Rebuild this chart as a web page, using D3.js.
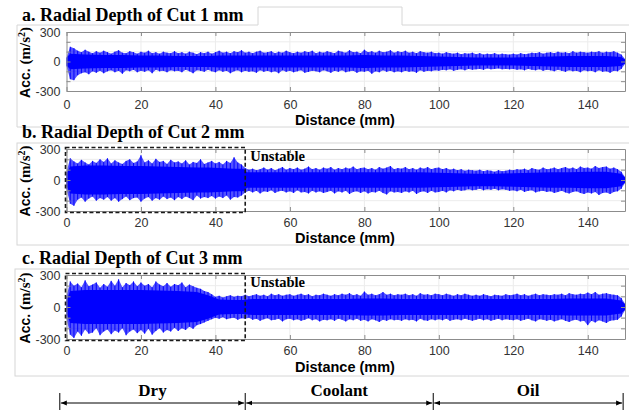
<!DOCTYPE html>
<html>
<head>
<meta charset="utf-8">
<script src="https://cdn.jsdelivr.net/npm/d3@7"></script>
<style>
body { margin: 0; background: #fff; }
svg { display: block; }
</style>
</head>
<body>
<script>
var width = 629,
    height = 410;

// axis ticks
var xTicks = [0, 20, 40, 60, 80, 100, 120, 140];
var yTicks = [-300, -200, -100, 0, 100, 200, 300];
var yLabels = [-300, 0, 300];

var titles = ["a. Radial Depth of Cut 1 mm", "b. Radial Depth of Cut 2 mm", "c. Radial Depth of Cut 3 mm"];
var unstableEnd = 48; // mm, end of the unstable (dry) zone in panels b and c

var conditions = ["Dry", "Coolant", "Oil"];
var conditionBounds = [-1.8, 48, 98.5, 149.5]; // mm

// peak envelope of the signal, one value per mm (0..150), m/s^2
var upA = [40,150,135,110,95,120,100,85,105,90,
  110,95,80,100,115,90,85,105,95,80,
  100,90,110,85,95,80,100,90,85,105,
  85,95,80,100,90,75,95,85,100,80,
  95,110,90,100,85,105,95,115,90,100,
  85,100,110,90,95,105,85,100,90,110,
  95,85,100,90,105,95,110,85,100,90,
  105,95,85,110,100,90,115,95,100,85,
  120,95,105,90,110,95,100,115,90,105,
  95,110,90,100,85,105,95,90,100,85,
  90,80,95,85,80,90,75,85,80,90,
  75,85,70,80,75,85,70,80,75,70,
  80,70,85,75,80,90,85,95,80,90,
  95,85,100,90,95,85,105,90,100,95,
  90,100,95,105,90,100,95,105,90,70,
  25];
var loA = [50,180,190,140,120,110,130,100,115,95,
  120,100,90,110,95,125,90,100,85,110,
  95,105,90,120,85,100,95,110,90,100,
  95,110,85,100,120,90,95,105,85,100,
  110,90,105,95,120,100,90,110,95,105,
  100,115,90,105,95,110,100,120,90,105,
  95,110,100,90,115,105,95,100,110,90,
  100,115,95,105,90,110,100,95,115,100,
  105,95,125,100,110,90,105,95,110,100,
  110,95,105,100,115,90,105,95,100,90,
  95,85,90,80,95,85,80,90,75,85,
  80,75,85,70,80,75,70,80,75,80,
  75,85,80,90,75,85,90,80,95,85,
  90,100,85,95,105,90,100,95,110,90,
  100,95,110,90,105,100,115,95,100,75,
  25];

var upB = [80,210,180,160,195,170,150,185,165,200,
  175,210,160,190,170,155,185,200,165,180,
  240,170,190,160,205,175,185,155,195,170,
  180,160,190,150,175,165,200,155,170,185,
  160,175,150,185,165,220,170,150,115,100,
  110,95,105,120,100,115,95,110,125,100,
  115,105,120,100,110,130,105,115,100,120,
  110,125,100,115,105,120,110,130,105,115,
  120,105,115,100,125,110,120,135,105,115,
  110,125,105,115,100,120,110,125,105,115,
  120,105,115,100,110,95,105,90,100,95,
  90,100,85,95,90,80,95,85,90,100,
  95,105,100,110,95,115,105,100,120,105,
  110,120,105,115,125,110,120,105,130,115,
  120,110,135,115,125,130,110,120,105,80,
  30];
var loB = [90,230,250,190,170,210,180,160,200,175,
  190,165,200,175,210,185,160,195,175,170,
  210,180,165,200,175,190,160,185,170,195,
  165,185,160,175,195,150,180,165,175,155,
  180,160,175,150,190,165,170,150,120,105,
  120,105,130,110,115,100,125,110,105,120,
  110,125,100,120,115,130,105,120,110,125,
  115,105,130,110,120,105,135,115,110,125,
  110,130,115,120,105,125,140,110,120,115,
  125,110,120,105,135,115,110,125,105,120,
  115,105,120,100,110,95,105,100,90,100,
  95,85,100,90,95,85,100,90,95,105,
  100,110,95,115,105,100,120,110,105,115,
  110,125,115,105,120,130,115,110,125,135,
  120,130,115,145,125,120,135,115,110,85,
  30];

var upC = [100,240,200,220,185,250,195,210,230,180,
  215,190,245,200,260,185,225,205,240,195,
  230,200,215,185,240,210,195,225,190,215,
  205,230,185,210,195,180,170,150,140,120,
  95,105,90,100,110,95,105,100,115,100,
  110,120,105,115,100,125,110,120,105,115,
  120,105,115,125,110,120,100,115,110,125,
  115,105,120,110,125,115,130,110,120,105,
  145,115,125,110,120,140,115,125,110,120,
  115,125,110,120,105,130,115,120,110,125,
  120,110,125,115,105,120,110,125,115,105,
  115,105,120,110,100,115,110,105,120,110,
  115,125,110,120,105,115,125,110,120,115,
  110,120,115,125,110,130,120,115,125,120,
  135,120,140,115,125,130,120,115,110,85,
  30];
var loC = [110,260,290,230,270,210,250,240,200,265,
  230,210,255,220,240,200,265,230,210,245,
  215,250,205,260,225,200,240,215,230,195,
  225,200,215,185,205,170,160,145,130,115,
  100,110,95,115,105,100,120,105,110,100,
  120,110,130,115,105,125,120,110,135,115,
  110,125,115,130,120,105,125,115,135,120,
  125,115,130,110,120,135,115,125,110,130,
  120,135,115,125,140,120,130,115,125,120,
  130,115,125,120,135,110,125,130,115,125,
  115,125,110,130,120,115,125,110,120,130,
  120,110,125,115,130,120,110,125,115,120,
  125,115,130,120,110,125,135,115,120,130,
  120,135,125,115,130,140,125,120,135,130,
  170,130,145,125,135,150,130,125,120,90,
  30];

// dense core band of the signal (+/- amplitude), m/s^2
var coreX = [0,1,5,10,15,20,25,30,35,38,41,45,47.5,48.5,50,55,60,65,70,75,80,85,90,95,100,105,110,115,120,125,130,135,140,145,149,150];
var coreA = [40,80,70,65,65,60,60,55,55,55,60,60,60,60,60,60,60,60,60,60,65,60,60,55,50,45,40,40,40,45,50,55,55,55,45,20];
var coreB = [60,130,140,140,135,135,130,125,120,120,115,110,110,75,75,75,75,75,75,75,75,75,75,75,70,65,60,60,65,70,75,75,80,80,60,25];
var coreC = [60,150,160,160,160,160,155,150,140,110,70,65,65,70,75,75,75,75,75,75,80,80,75,75,75,75,75,75,75,75,75,80,80,80,60,25];

var panels = [
  {title: titles[0], up: upA, lo: loA, core: coreA, top: 32, bottom: 91, box: false, pad: 9, labelY: 125},
  {title: titles[1], up: upB, lo: loB, core: coreB, top: 149, bottom: 211, box: true, pad: 7, labelY: 243},
  {title: titles[2], up: upC, lo: loC, core: coreC, top: 275, bottom: 339, box: true, pad: 7, labelY: 372}
];

var svg = d3.select("body").append("svg")
    .attr("width", width)
    .attr("height", height);

var x = d3.scaleLinear().domain([0, 150]).range([66.5, 625]);

var frameColor = "#d6d6d6";

// light figure frames
svg.append("path")
    .attr("d", "M17,127V25H258V7H402V25H629")
    .attr("fill", "none").attr("stroke", frameColor);
svg.append("line").attr("x1", 17).attr("x2", 629).attr("y1", 127).attr("y2", 127).attr("stroke", frameColor);
svg.append("rect").attr("x", 17).attr("y", 143).attr("width", 620).attr("height", 102)
    .attr("fill", "none").attr("stroke", frameColor);
svg.append("rect").attr("x", 15).attr("y", 269).attr("width", 620).attr("height", 107)
    .attr("fill", "none").attr("stroke", frameColor);

panels.forEach(function(p, k) {
  var y = d3.scaleLinear().domain([-300, 300]).range([p.bottom, p.top]);
  var g = svg.append("g");

  g.append("clipPath").attr("id", "clip" + k)
    .append("rect")
    .attr("x", x(0)).attr("y", p.top)
    .attr("width", x(150) - x(0)).attr("height", p.bottom - p.top);

  // grid
  g.append("g").selectAll("line")
    .data(xTicks.slice(1))
    .enter().append("line")
    .attr("x1", function(d) { return x(d); })
    .attr("x2", function(d) { return x(d); })
    .attr("y1", p.top).attr("y2", p.bottom)
    .attr("stroke", "#ececec");
  g.append("g").selectAll("line")
    .data(yTicks.slice(1, -1))
    .enter().append("line")
    .attr("x1", x(0)).attr("x2", x(150))
    .attr("y1", function(d) { return y(d); })
    .attr("y2", function(d) { return y(d); })
    .attr("stroke", "#ececec");

  // signal: peak envelope (light), spikes, then the dense core
  var sig = g.append("g").attr("clip-path", "url(#clip" + k + ")");
  var outer = d3.area()
    .x(function(d, i) { return x(i); })
    .y0(function(d, i) { return y(-p.lo[i]); })
    .y1(function(d, i) { return y(p.up[i]); });
  sig.append("path")
    .datum(p.up)
    .attr("d", outer)
    .attr("fill", "#0000ff")
    .attr("fill-opacity", 0.68);
  sig.selectAll("line.spike")
    .data(p.up)
    .enter().append("line")
    .attr("class", "spike")
    .attr("x1", function(d, i) { return x(i); })
    .attr("x2", function(d, i) { return x(i); })
    .attr("y1", function(d) { return y(d); })
    .attr("y2", function(d, i) { return y(-p.lo[i]); })
    .attr("stroke", "#0000ff")
    .attr("stroke-width", 1);
  var core = d3.area()
    .x(function(d, i) { return x(coreX[i]); })
    .y0(function(d) { return y(-d); })
    .y1(function(d) { return y(d); });
  sig.append("path")
    .datum(p.core)
    .attr("d", core)
    .attr("fill", "#0000ff");

  // axes
  var axB = d3.axisBottom(x).tickValues(xTicks).tickSize(-4).tickSizeOuter(0).tickPadding(p.pad);
  var axT = d3.axisTop(x).tickValues(xTicks).tickSize(-4).tickSizeOuter(0).tickFormat("");
  var axL = d3.axisLeft(y).tickValues(yTicks).tickSize(-4).tickSizeOuter(0).tickPadding(6)
    .tickFormat(function(d) { return yLabels.indexOf(d) >= 0 ? d : ""; });
  var axR = d3.axisRight(y).tickValues(yTicks).tickSize(-4).tickSizeOuter(0).tickFormat("");

  [[axB, "translate(0," + p.bottom + ")"], [axT, "translate(0," + p.top + ")"],
   [axL, "translate(" + x(0) + ",0)"], [axR, "translate(" + x(150) + ",0)"]].forEach(function(a) {
    var ax = g.append("g").attr("transform", a[1]).call(a[0]);
    ax.select(".domain").attr("stroke", "#8c8c8c");
    ax.selectAll(".tick line").attr("stroke", "#8c8c8c");
    ax.selectAll("text")
      .attr("font-family", "'Liberation Sans', Arial, sans-serif")
      .attr("font-size", 12.5)
      .attr("fill", "#333");
  });

  // titles and labels
  svg.append("text")
    .attr("x", 22).attr("y", p.top - 11)
    .attr("font-family", "'Liberation Serif', 'Times New Roman', serif")
    .attr("font-weight", "bold")
    .attr("font-size", 18)
    .text(p.title);

  svg.append("text")
    .attr("x", 345).attr("y", p.labelY)
    .attr("text-anchor", "middle")
    .attr("font-family", "'Liberation Sans', Arial, sans-serif")
    .attr("font-weight", "bold")
    .attr("font-size", 14.5)
    .text("Distance (mm)");

  var yl = svg.append("text")
    .attr("transform", "translate(30," + ((p.top + p.bottom) / 2 + 1) + ") rotate(-90)")
    .attr("text-anchor", "middle")
    .attr("font-weight", "bold")
    .attr("font-size", 14);
  yl.append("tspan").attr("font-family", "'Liberation Sans', Arial, sans-serif").text("Acc. ");
  yl.append("tspan").attr("font-family", "'Liberation Serif', serif").attr("font-size", 15).text("(m/s");
  yl.append("tspan").attr("font-family", "'Liberation Serif', serif").attr("font-size", 10).attr("dy", -5).text("2");
  yl.append("tspan").attr("font-family", "'Liberation Serif', serif").attr("font-size", 15).attr("dy", 5).text(")");

  if (p.box) {
    svg.append("rect")
      .attr("x", x(0) - 1).attr("y", p.top - 1.5)
      .attr("width", x(unstableEnd) - x(0) + 1)
      .attr("height", p.bottom - p.top + 3)
      .attr("fill", "none")
      .attr("stroke", "#1a1a1a")
      .attr("stroke-width", 1.6)
      .attr("stroke-dasharray", "4,2.5");
    svg.append("text")
      .attr("x", x(unstableEnd) + 5).attr("y", p.top + 12)
      .attr("font-family", "'Liberation Serif', serif")
      .attr("font-weight", "bold")
      .attr("font-size", 14.5)
      .text("Unstable");
  }
});

// cutting conditions along the bottom
var arrowY = 403;
var defs = svg.append("defs");
defs.append("marker")
    .attr("id", "head")
    .attr("viewBox", "0 0 10 10")
    .attr("refX", 10).attr("refY", 5)
    .attr("markerWidth", 6).attr("markerHeight", 6)
    .attr("orient", "auto-start-reverse")
    .append("path").attr("d", "M0,1L10,5L0,9Z").attr("fill", "#000");

var cond = svg.append("g");
cond.selectAll("line.bar")
    .data(conditionBounds)
    .enter().append("line")
    .attr("class", "bar")
    .attr("x1", function(d) { return x(d); })
    .attr("x2", function(d) { return x(d); })
    .attr("y1", 393).attr("y2", 410)
    .attr("stroke", "#000");
cond.selectAll("line.arrow")
    .data(conditions)
    .enter().append("line")
    .attr("class", "arrow")
    .attr("x1", function(d, i) { return x(conditionBounds[i]) + 1; })
    .attr("x2", function(d, i) { return x(conditionBounds[i + 1]) - 1; })
    .attr("y1", arrowY).attr("y2", arrowY)
    .attr("stroke", "#000")
    .attr("stroke-width", 1)
    .attr("marker-start", "url(#head)")
    .attr("marker-end", "url(#head)");
cond.selectAll("text")
    .data(conditions)
    .enter().append("text")
    .attr("x", function(d, i) { return (x(conditionBounds[i]) + x(conditionBounds[i + 1])) / 2; })
    .attr("y", 396)
    .attr("text-anchor", "middle")
    .attr("font-family", "'Liberation Serif', serif")
    .attr("font-weight", "bold")
    .attr("font-size", 17)
    .text(function(d) { return d; });
</script>
</body>
</html>
